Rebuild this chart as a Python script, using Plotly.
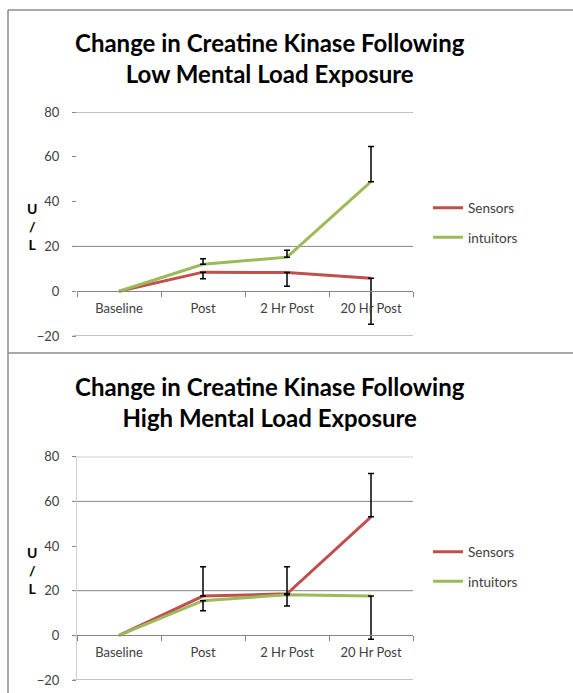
import plotly.graph_objects as go

categories = ["Baseline", "Post", "2 Hr Post", "20 Hr Post"]

# Low mental load
low_sensors = [0, 8.5, 8.3, 5.8]
low_intuitors = [0, 12.0, 15.2, 48.9]
low_sensors_err_minus = [0, 2.9, 6.1, 20.6]
low_intuitors_err_plus = [0, 2.5, 3.1, 15.7]

# High mental load
high_sensors = [0, 17.6, 18.6, 53.1]
high_intuitors = [0, 15.5, 18.2, 17.6]
high_sensors_err_plus = [0, 13.1, 12.1, 19.4]
high_intuitors_err_minus = [0, 4.5, 5.1, 19.4]

titles = ["Change in Creatine Kinase Following<br>Low Mental Load Exposure",
          "Change in Creatine Kinase Following<br>High Mental Load Exposure"]
series_names = ["Sensors", "intuitors"]
y_ticks = [-20, 0, 20, 40, 60, 80]
grid_top = [80, 20, -20]
grid_bottom = [80, 60, 20, -20]

RED = "#C0504D"
GREEN = "#9BBB59"
FONT = "Lato"
W, H = 573, 693

def px_y(p):
    return 1 - p / H

def px_x(p):
    return p / W

xdom = [px_x(77), px_x(413)]
ydom_top = [px_y(336), px_y(112)]
ydom_bot = [px_y(680), px_y(456.7)]
yrange = [-20, 80]

def zero_pos(d):
    return d[0] + (0 - yrange[0]) / (yrange[1] - yrange[0]) * (d[1] - d[0])

fig = go.Figure()

panels = [
    dict(xa="x", ya="y", leg="legend", s=low_sensors, i=low_intuitors,
         s_err=dict(plus=None, minus=low_sensors_err_minus),
         i_err=dict(plus=low_intuitors_err_plus, minus=None)),
    dict(xa="x2", ya="y2", leg="legend2", s=high_sensors, i=high_intuitors,
         s_err=dict(plus=high_sensors_err_plus, minus=None),
         i_err=dict(plus=None, minus=high_intuitors_err_minus)),
]

for p in panels:
    fig.add_trace(go.Scatter(x=categories, y=p["s"], name=series_names[0], mode="lines",
                             line=dict(color=RED, width=3), xaxis=p["xa"], yaxis=p["ya"],
                             legend=p["leg"], legendgroup=p["leg"] + "s"))
    fig.add_trace(go.Scatter(x=categories, y=p["i"], name=series_names[1], mode="lines",
                             line=dict(color=GREEN, width=3), xaxis=p["xa"], yaxis=p["ya"],
                             legend=p["leg"], legendgroup=p["leg"] + "i"))
    for vals, err in [(p["s"], p["s_err"]), (p["i"], p["i_err"])]:
        plus = err["plus"] if err["plus"] is not None else [0] * len(vals)
        minus = err["minus"] if err["minus"] is not None else [0] * len(vals)
        idx = [k for k in range(len(vals)) if (plus[k] > 0 or minus[k] > 0)]
        fig.add_trace(go.Scatter(
            x=[categories[k] for k in idx], y=[vals[k] for k in idx], mode="markers",
            marker=dict(size=0.1, color="rgba(0,0,0,0)"),
            error_y=dict(type="data", symmetric=False,
                         array=[plus[k] for k in idx], arrayminus=[minus[k] for k in idx],
                         color="black", thickness=1.5, width=3),
            xaxis=p["xa"], yaxis=p["ya"], showlegend=False, hoverinfo="skip"))

axis_font = dict(family=FONT, size=13, color="#404040")
ytick_font = dict(family=FONT, size=13, color="#404040")

for n, ydom in [("", ydom_top), ("2", ydom_bot)]:
    fig.update_layout(**{
        "xaxis" + n: dict(domain=xdom, anchor="free", position=zero_pos(ydom),
                          type="category", range=[-0.5, 3.5], automargin=False,
                          showline=True, linecolor="#868686", linewidth=1,
                          ticks="outside", ticklen=5, tickcolor="#868686", tickson="boundaries",
                          showgrid=False, tickfont=axis_font, ticklabelstandoff=5,
                          fixedrange=True),
        "yaxis" + n: dict(domain=ydom, anchor="x" + n, range=yrange, tickvals=y_ticks,
                          showgrid=False, zeroline=False, automargin=False,
                          showline=(n == "2"), linecolor="#D0D0D0", linewidth=1,
                          ticks="outside", ticklen=4, tickcolor="#868686",
                          tickfont=ytick_font, ticklabelstandoff=10, fixedrange=True),
    })

shapes = []
for g in grid_top:
    shapes.append(dict(type="line", xref="paper", yref="y", x0=px_x(73), x1=xdom[1], y0=g, y1=g,
                       line=dict(color="#868686", width=1), layer="below"))
for g in grid_bottom:
    shapes.append(dict(type="line", xref="paper", yref="y2", x0=px_x(73), x1=xdom[1], y0=g, y1=g,
                       line=dict(color="#868686", width=1), layer="below"))
# chart frames
frame = dict(color="#8C8C8C", width=1.5)
shapes.append(dict(type="line", xref="paper", yref="paper", x0=px_x(8), x1=1, y0=px_y(10), y1=px_y(10), line=frame))
shapes.append(dict(type="line", xref="paper", yref="paper", x0=px_x(8), x1=px_x(8), y0=0, y1=px_y(10), line=frame))
shapes.append(dict(type="line", xref="paper", yref="paper", x0=px_x(8), x1=1, y0=px_y(353), y1=px_y(353), line=frame))

annotations = []
for t, yc in [(titles[0], 58), (titles[1], 402)]:
    annotations.append(dict(text="<b>" + t + "</b>", xref="paper", yref="paper", x=px_x(270), y=px_y(yc),
                            showarrow=False, font=dict(family=FONT, size=24, color="black"),
                            xanchor="center", yanchor="middle", align="center"))
for yc in [226, 570]:
    annotations.append(dict(text="<b>U<br>/<br>L</b>", xref="paper", yref="paper", x=px_x(32), y=px_y(yc),
                            showarrow=False, font=dict(family=FONT, size=14, color="black"),
                            xanchor="center", yanchor="middle", align="center"))

legend_common = dict(xanchor="left", yanchor="middle", bgcolor="rgba(0,0,0,0)",
                     font=dict(family=FONT, size=13.5, color="#404040"),
                     itemwidth=30, tracegroupgap=9, traceorder="grouped")

fig.update_layout(
    width=W, height=H, margin=dict(l=0, r=0, t=0, b=0, autoexpand=False),
    paper_bgcolor="white", plot_bgcolor="rgba(0,0,0,0)",
    font=dict(family=FONT, color="#404040"),
    shapes=shapes, annotations=annotations,
    legend=dict(x=px_x(428), y=px_y(223), **legend_common),
    legend2=dict(x=px_x(428), y=px_y(567), **legend_common),
    showlegend=True,
)

fig.write_html("out.html", config={"displayModeBar": False},
               post_script="document.body.style.margin='0px';")
